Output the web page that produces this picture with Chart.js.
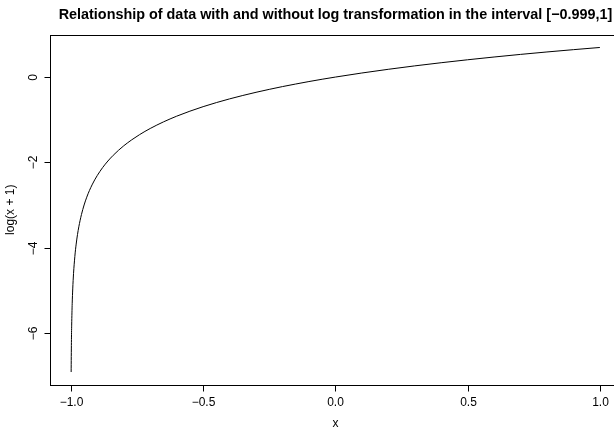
<!DOCTYPE html>
<html>
<head>
<meta charset="utf-8">
<script src="https://cdn.jsdelivr.net/npm/chart.js@4"></script>
<style>
  html, body { margin: 0; padding: 0; background: #fff; overflow: hidden; }
  #wrap { width: 630px; height: 428px; }
</style>
</head>
<body>
<div id="wrap"><canvas id="logChart" width="630" height="428"></canvas></div>
<script>
// values (x, log(x + 1))
const xValues = [-0.999, -0.998, -0.997, -0.995, -0.993, -0.99, -0.985, -0.98, -0.975, -0.97,
  -0.96, -0.95, -0.94, -0.93, -0.92, -0.91, -0.90, -0.88, -0.86, -0.84,
  -0.82, -0.80, -0.77, -0.74, -0.70, -0.65, -0.60, -0.55, -0.50, -0.45,
  -0.40, -0.35, -0.30, -0.25, -0.20, -0.15, -0.10, -0.05, 0.0, 0.1,
  0.2, 0.3, 0.4, 0.5, 0.6, 0.7, 0.8, 0.9, 1.0];
const yValues = [-6.908, -6.215, -5.809, -5.298, -4.962, -4.605, -4.200, -3.912, -3.689, -3.507,
  -3.219, -2.996, -2.813, -2.659, -2.526, -2.408, -2.303, -2.120, -1.966, -1.833,
  -1.715, -1.609, -1.470, -1.347, -1.204, -1.050, -0.916, -0.799, -0.693, -0.598,
  -0.511, -0.431, -0.357, -0.288, -0.223, -0.163, -0.105, -0.051, 0.000, 0.095,
  0.182, 0.262, 0.336, 0.405, 0.470, 0.531, 0.588, 0.642, 0.693];

const xTicks = [-1, -0.5, 0, 0.5, 1];
const xTickLabels = ["\u22121.0", "\u22120.5", "0.0", "0.5", "1.0"];
const yTicks = [-6, -4, -2, 0];
const yTickLabels = ["\u22126", "\u22124", "\u22122", "0"];

const titleText = "Relationship of data with and without log transformation in the interval [\u22120.999,1]";
const xTitle = "x";
const yTitle = "log(x + 1)";

const points = xValues.map((x, i) => ({ x: x, y: yValues[i] }));
const FONT = '"Liberation Sans", Arial, sans-serif';

// R-style box, ticks and labels drawn from the chart's scales
const baseGraphics = {
  id: "baseGraphics",
  afterDraw(chart) {
    const ctx = chart.ctx;
    const area = chart.chartArea;
    const xs = chart.scales.x;
    const ys = chart.scales.y;
    const L = Math.round(area.left) + 0.5;
    const T = Math.round(area.top) + 0.5;
    const R = Math.round(area.right) + 0.5;
    const B = Math.round(area.bottom) + 0.5;
    ctx.save();
    ctx.strokeStyle = "#000";
    ctx.fillStyle = "#000";
    ctx.lineWidth = 1;
    ctx.strokeRect(L, T, R - L, B - T);

    // x axis
    ctx.font = "12px " + FONT;
    ctx.textAlign = "center";
    ctx.textBaseline = "alphabetic";
    xTicks.forEach((v, i) => {
      const px = Math.round(xs.getPixelForValue(v)) + 0.5;
      ctx.beginPath();
      ctx.moveTo(px, B);
      ctx.lineTo(px, B + 6);
      ctx.stroke();
      ctx.fillText(xTickLabels[i], px, 405.5);
    });
    ctx.fillText(xTitle, (area.left + area.right) / 2, 426.5);

    // y axis
    yTicks.forEach((v, i) => {
      const py = Math.round(ys.getPixelForValue(v)) + 0.5;
      ctx.beginPath();
      ctx.moveTo(L, py);
      ctx.lineTo(L - 6, py);
      ctx.stroke();
      ctx.save();
      ctx.translate(36.5, py);
      ctx.rotate(-Math.PI / 2);
      ctx.fillText(yTickLabels[i], 0, 0);
      ctx.restore();
    });
    ctx.save();
    ctx.translate(13.5, (area.top + area.bottom) / 2);
    ctx.rotate(-Math.PI / 2);
    ctx.fillText(yTitle, 0, 0);
    ctx.restore();

    // main title
    ctx.font = "bold 14.4px " + FONT;
    ctx.fillText(titleText, (area.left + area.right) / 2, 18.5);
    ctx.restore();
  }
};

new Chart(document.getElementById("logChart").getContext("2d"), {
  type: "scatter",
  data: {
    datasets: [{
      data: points,
      showLine: true,
      borderColor: "#000",
      borderWidth: 1,
      pointRadius: 0,
      cubicInterpolationMode: "monotone",
      fill: false
    }]
  },
  options: {
    responsive: false,
    devicePixelRatio: 1,
    animation: false,
    layout: { padding: { left: 50, top: 34.5, right: 9, bottom: 43 } },
    plugins: {
      legend: { display: false },
      tooltip: { enabled: false }
    },
    scales: {
      x: { type: "linear", min: -1.07896, max: 1.07996, display: false },
      y: { type: "linear", min: -7.212, max: 0.997, display: false }
    }
  },
  plugins: [baseGraphics]
});
</script>
</body>
</html>
